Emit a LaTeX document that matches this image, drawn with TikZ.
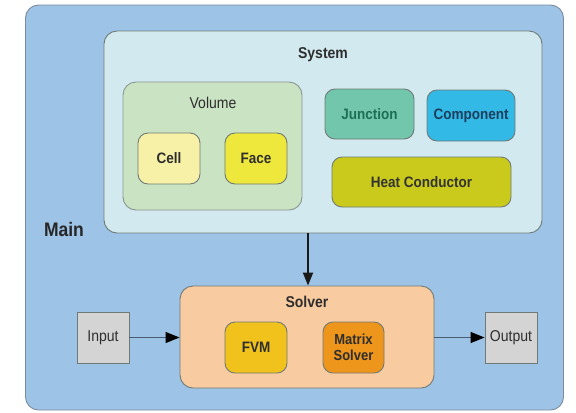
\documentclass[tikz,border=0pt]{standalone}
\usepackage{fontspec}
\setmainfont{Liberation Sans}
\usetikzlibrary{arrows.meta}
\definecolor{mainfill}{HTML}{9DC3E6}
\definecolor{mainborder}{HTML}{7D8C9C}
\definecolor{sysfill}{HTML}{D2EAEF}
\definecolor{volfill}{HTML}{C9E3C3}
\definecolor{cellfill}{HTML}{F6F1A6}
\definecolor{facefill}{HTML}{EEE83C}
\definecolor{juncfill}{HTML}{72C6AC}
\definecolor{junctext}{HTML}{1E6E55}
\definecolor{compfill}{HTML}{33B9E6}
\definecolor{comptext}{HTML}{1D3F5E}
\definecolor{heatfill}{HTML}{CACA1C}
\definecolor{solvfill}{HTML}{F8CBA0}
\definecolor{fvmfill}{HTML}{F1C21C}
\definecolor{matfill}{HTML}{EE951C}
\definecolor{iofill}{HTML}{D4D4D4}
\definecolor{edgegray}{HTML}{6F7A76}
\definecolor{txt}{HTML}{2E2E2E}
\definecolor{linkcol}{HTML}{4A5C70}
\newcommand\vst[1]{\scalebox{1}[1.12]{#1}}
\tikzset{
  box/.style={draw=edgegray, line width=0.9bp, rounded corners=10bp, inner sep=0pt,
    font=\fontsize{13.5bp}{15bp}\selectfont\bfseries, text=txt, align=center},
  container/.style={box, rounded corners=13bp},
  iobox/.style={draw=edgegray, line width=0.9bp, fill=iofill, inner sep=0pt,
    minimum width=52bp, minimum height=51bp, font=\fontsize{14bp}{16bp}\selectfont, text=txt},
  title/.style={inner sep=0pt, font=\fontsize{14bp}{16bp}\selectfont\bfseries, text=txt},
  link/.style={draw=linkcol, line width=1.1bp, -{Triangle[length=14bp,width=11bp,color=black]}},
}
\begin{document}
\begin{tikzpicture}[x=1bp,y=-1bp]
\useasboundingbox (0,0) rectangle (576,412);
% Main
\node[container, fill=mainfill, draw=mainborder, minimum width=538bp, minimum height=405bp] (main) at (294.5,207.5) {};
\node[title, font=\fontsize{17.5bp}{19bp}\selectfont\bfseries, text=black!85] (maintitle) at (64,229) {\vst{Main}};
% System
\node[container, fill=sysfill, minimum width=438bp, minimum height=202bp] (system) at (323,132) {};
\node[title] (systitle) at (323,55) {\vst{System}};
% Volume
\node[container, fill=volfill, draw=edgegray!80, minimum width=179bp, minimum height=128bp] (volume) at (212.5,146) {};
\node[title, font=\fontsize{14bp}{16bp}\selectfont] (voltitle) at (213,103) {\vst{Volume}};
\node[box, fill=cellfill, minimum width=62bp, minimum height=51bp] (cell) at (169,158.5) {\vst{Cell}};
\node[box, fill=facefill, minimum width=62bp, minimum height=51bp] (face) at (256,158.5) {\vst{Face}};
% Others
\node[box, fill=juncfill, text=junctext, minimum width=89bp, minimum height=50bp] (junction) at (369.5,114) {\vst{Junction}};
\node[box, fill=compfill, text=comptext, minimum width=88bp, minimum height=51bp] (component) at (471,115.5) {\vst{Component}};
\node[box, fill=heatfill, text=black!80, minimum width=179bp, minimum height=50bp] (heat) at (421.5,182) {\vst{Heat Conductor}};
% Solver
\node[container, fill=solvfill, minimum width=254bp, minimum height=102bp] (solver) at (307,337) {};
\node[title] (solvtitle) at (307,302) {\vst{Solver}};
\node[box, fill=fvmfill, minimum width=62bp, minimum height=51bp] (fvm) at (256,347.5) {\vst{FVM}};
\node[box, fill=matfill, minimum width=61bp, minimum height=51bp, font=\fontsize{13bp}{16.5bp}\selectfont\bfseries] (matrix) at (353.5,347.5) {\vst{Matrix}\\\vst{Solver}};
% IO
\node[iobox] (input) at (103,337.5) {\vst{Input}};
\node[iobox] (output) at (511,337.5) {\vst{Output}};
% Connectors
\draw[line width=1.8bp, draw=black!90, -{Triangle[length=13bp,width=10bp]}] ([xshift=1bp]solver.north |- system.south) -- ([xshift=1bp]solver.north);
\draw[link] (input.east) -- (input.east -| solver.west);
\draw[link] (output.west -| solver.east) -- (output.west);
\end{tikzpicture}
\end{document}
